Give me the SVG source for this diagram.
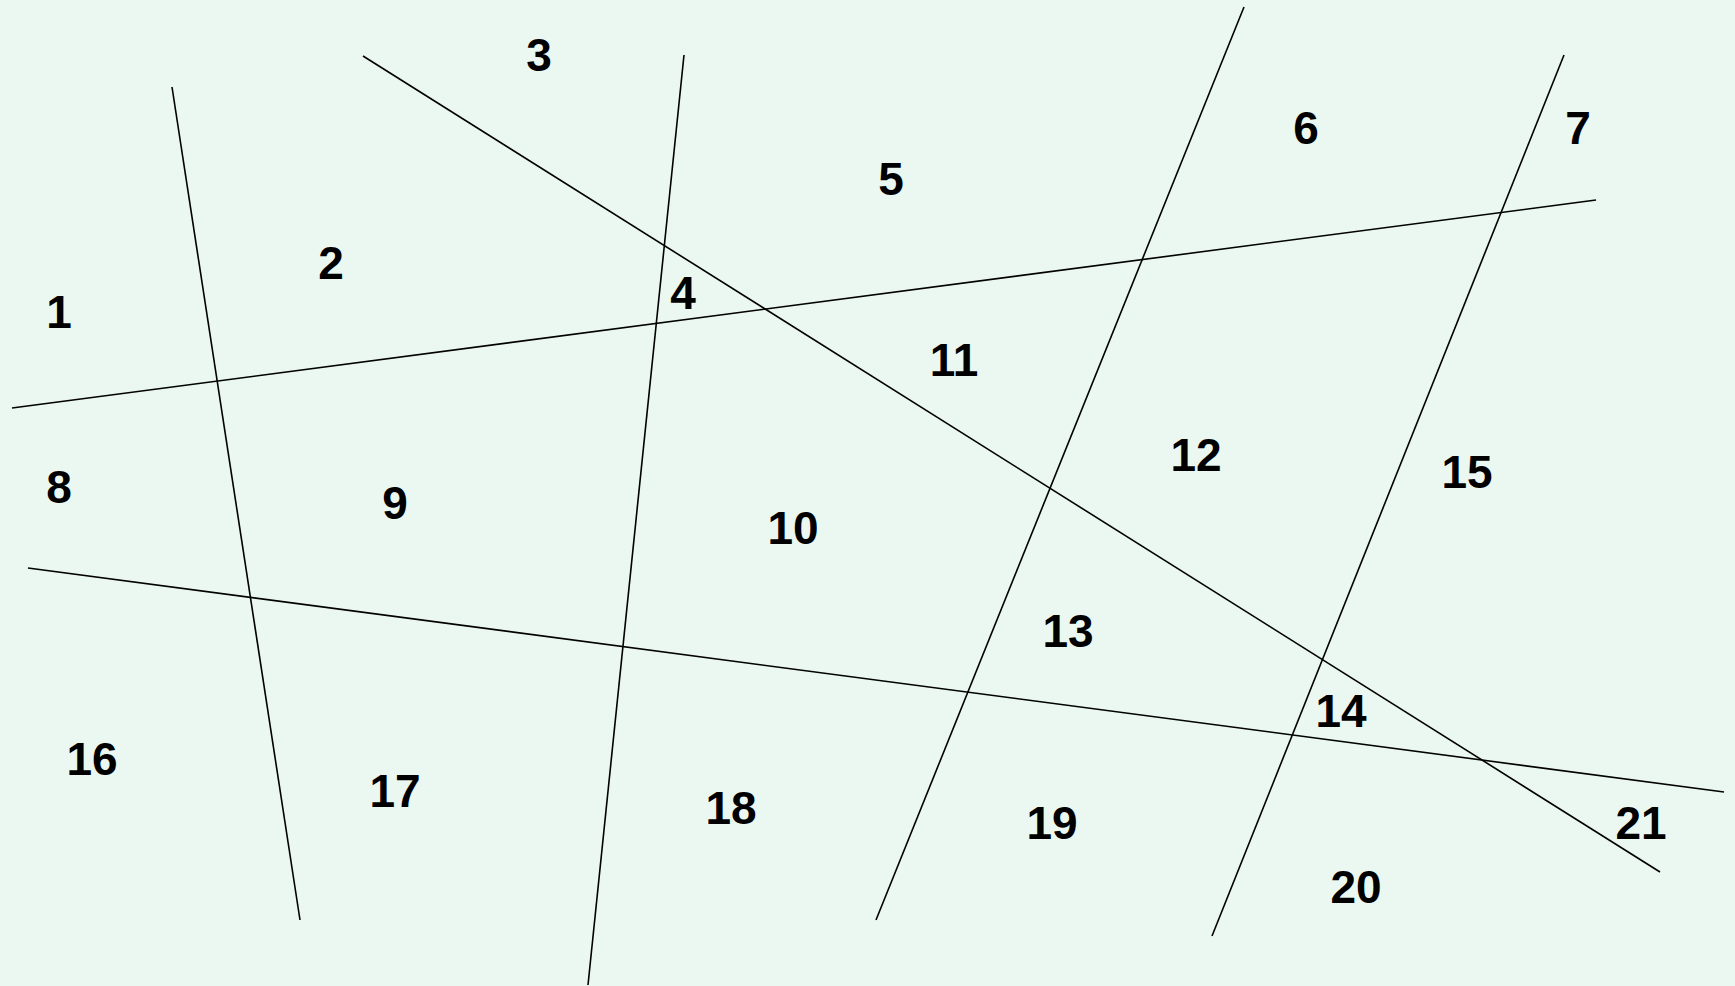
<svg xmlns="http://www.w3.org/2000/svg" width="1735" height="986" viewBox="0 0 1735 986">
<style>
.ln{stroke:#000;stroke-width:1.6;fill:none}
.lb{font-family:"Liberation Sans",Arial,sans-serif;font-weight:bold;font-size:46px;fill:#000;text-anchor:middle;dominant-baseline:central}
</style>
<rect width="1735" height="986" fill="#ebf8f1"/>
<g id="connectors">
<line class="ln" x1="172" y1="87" x2="300" y2="920"/>
<line class="ln" x1="363" y1="56" x2="1660" y2="872"/>
<line class="ln" x1="684" y1="55" x2="588" y2="985"/>
<line class="ln" x1="1244" y1="7" x2="876" y2="920"/>
<line class="ln" x1="1564" y1="55" x2="1212" y2="936"/>
<line class="ln" x1="12" y1="408" x2="1596" y2="200"/>
<line class="ln" x1="28" y1="568" x2="1724" y2="792"/>
</g>
<g id="n1"><text class="lb" x="59" y="312">1</text></g>
<g id="n2"><text class="lb" x="331" y="263">2</text></g>
<g id="n3"><text class="lb" x="539" y="55">3</text></g>
<g id="n4"><text class="lb" x="683" y="293">4</text></g>
<g id="n5"><text class="lb" x="891" y="179">5</text></g>
<g id="n6"><text class="lb" x="1306" y="128">6</text></g>
<g id="n7"><text class="lb" x="1578" y="128">7</text></g>
<g id="n8"><text class="lb" x="59" y="487">8</text></g>
<g id="n9"><text class="lb" x="395" y="503">9</text></g>
<g id="n10"><text class="lb" x="793" y="528">10</text></g>
<g id="n11"><text class="lb" x="954" y="360">11</text></g>
<g id="n12"><text class="lb" x="1196" y="455">12</text></g>
<g id="n13"><text class="lb" x="1068" y="631">13</text></g>
<g id="n14"><text class="lb" x="1341" y="711">14</text></g>
<g id="n15"><text class="lb" x="1467" y="472">15</text></g>
<g id="n16"><text class="lb" x="92" y="759">16</text></g>
<g id="n17"><text class="lb" x="395" y="791">17</text></g>
<g id="n18"><text class="lb" x="731" y="808">18</text></g>
<g id="n19"><text class="lb" x="1052" y="823">19</text></g>
<g id="n20"><text class="lb" x="1356" y="887">20</text></g>
<g id="n21"><text class="lb" x="1641" y="823">21</text></g>
</svg>
